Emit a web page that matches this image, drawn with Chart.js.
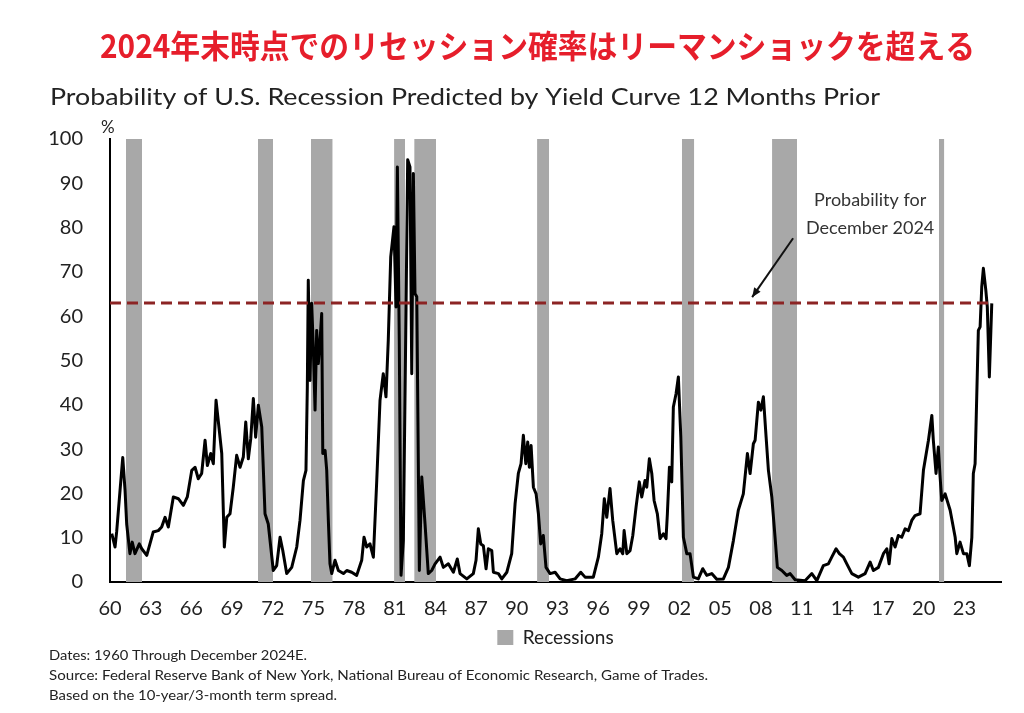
<!DOCTYPE html>
<html>
<head>
<meta charset="utf-8">
<script src="https://cdn.jsdelivr.net/npm/chart.js@4.4.1/dist/chart.umd.min.js"></script>
<style>
  html, body { margin: 0; padding: 0; background: #fff; }
</style>
</head>
<body>
<canvas id="recessionChart" width="1024" height="713"></canvas>
<script>
// Data block (years as decimals)
const years = [
  1960.13, 1960.37, 1960.49, 1960.74, 1960.94, 1961.11, 1961.23, 1961.47, 1961.64, 1961.84,
  1962.16, 1962.34, 1962.71, 1963.19, 1963.56, 1963.81, 1964.06, 1964.30, 1964.67, 1965.04,
  1965.41, 1965.70, 1966.03, 1966.27, 1966.51, 1966.76, 1967.01, 1967.18, 1967.43, 1967.62,
  1967.82, 1968.06, 1968.24, 1968.43, 1968.61, 1968.85, 1969.09, 1969.34, 1969.59, 1969.83,
  1970.01, 1970.20, 1970.38, 1970.57, 1970.74, 1970.94, 1971.19, 1971.43, 1971.67, 1972.04,
  1972.29, 1972.54, 1972.74, 1973.03, 1973.40, 1973.77, 1974.01, 1974.26, 1974.45, 1974.55,
  1974.62, 1974.75, 1974.87, 1974.99, 1975.12, 1975.24, 1975.36, 1975.49, 1975.61, 1975.69,
  1975.86, 1975.98, 1976.10, 1976.22, 1976.35, 1976.59, 1976.84, 1977.21, 1977.46, 1977.82,
  1978.19, 1978.56, 1978.73, 1978.93, 1979.17, 1979.42, 1979.67, 1979.91, 1980.15, 1980.35,
  1980.52, 1980.70, 1980.94, 1981.09, 1981.19, 1981.33, 1981.46, 1981.63, 1981.83, 1981.95,
  1982.12, 1982.25, 1982.37, 1982.49, 1982.62, 1982.81, 1982.99, 1983.23, 1983.47, 1983.72,
  1983.97, 1984.34, 1984.58, 1984.95, 1985.32, 1985.61, 1985.81, 1986.31, 1986.79, 1986.99,
  1987.16, 1987.34, 1987.53, 1987.73, 1987.90, 1988.15, 1988.27, 1988.64, 1988.89, 1989.26,
  1989.62, 1989.87, 1990.11, 1990.31, 1990.48, 1990.66, 1990.80, 1990.92, 1991.05, 1991.22,
  1991.42, 1991.59, 1991.76, 1991.95, 1992.15, 1992.45, 1992.82, 1993.19, 1993.68, 1994.29,
  1994.71, 1995.03, 1995.64, 1996.01, 1996.26, 1996.45, 1996.63, 1996.87, 1997.07, 1997.37,
  1997.61, 1997.81, 1997.91, 1998.11, 1998.35, 1998.55, 1998.79, 1999.03, 1999.21, 1999.45,
  1999.58, 1999.77, 1999.95, 2000.12, 2000.36, 2000.56, 2000.80, 2001.00, 2001.10, 2001.25,
  2001.42, 2001.54, 2001.74, 2001.91, 2002.09, 2002.28, 2002.53, 2002.77, 2003.02, 2003.38,
  2003.71, 2004.00, 2004.37, 2004.74, 2005.23, 2005.60, 2005.97, 2006.33, 2006.70, 2007.00,
  2007.20, 2007.44, 2007.57, 2007.81, 2007.99, 2008.18, 2008.38, 2008.55, 2008.80, 2009.04,
  2009.21, 2009.54, 2009.90, 2010.15, 2010.52, 2011.25, 2011.75, 2012.12, 2012.60, 2012.97,
  2013.22, 2013.54, 2013.78, 2014.08, 2014.33, 2014.70, 2015.18, 2015.68, 2016.05, 2016.29,
  2016.66, 2017.03, 2017.28, 2017.45, 2017.65, 2017.89, 2018.13, 2018.38, 2018.63, 2018.87,
  2019.12, 2019.36, 2019.73, 2019.98, 2020.35, 2020.60, 2020.71, 2020.91, 2021.08, 2021.21,
  2021.33, 2021.58, 2021.95, 2022.32, 2022.44, 2022.68, 2022.93, 2023.18, 2023.37, 2023.55,
  2023.66, 2023.79, 2024.03, 2024.16, 2024.28, 2024.40, 2024.58, 2024.69, 2024.84, 2025.02
];
const probability = [
  10.9, 7.9, 11.3, 20.7, 28.1, 20.7, 13.1, 6.4, 9.0, 6.4,
  8.6, 7.5, 6.0, 11.3, 11.6, 12.4, 14.6, 12.4, 19.2, 18.8,
  17.3, 19.2, 25.2, 25.9, 23.3, 24.5, 32.0, 26.3, 29.0, 26.7,
  41.0, 34.2, 29.0, 7.9, 14.6, 15.4, 21.4, 28.6, 25.9, 28.2,
  36.1, 27.8, 32.4, 41.4, 32.7, 39.9, 35.0, 15.4, 13.1, 2.6,
  3.7, 10.1, 7.1, 1.9, 3.3, 7.9, 13.9, 22.9, 25.2, 44.0,
  68.1, 45.5, 62.9, 53.1, 38.8, 56.8, 49.3, 54.6, 60.6, 29.0,
  29.7, 25.2, 13.9, 4.1, 1.9, 4.9, 2.6, 1.9, 2.6, 2.2,
  1.5, 4.9, 10.1, 7.9, 8.6, 5.6, 22.9, 41.0, 47.0, 41.8,
  54.6, 73.4, 80.2, 62.1, 93.7, 54.6, 1.5, 9.4, 62.1, 95.3,
  93.7, 47.0, 92.2, 65.1, 64.4, 2.6, 23.7, 13.1, 1.9, 2.6,
  4.1, 5.6, 3.3, 4.1, 2.2, 5.2, 1.9, 0.7, 1.9, 4.9,
  12.0, 8.6, 8.2, 3.0, 7.5, 7.1, 2.2, 1.9, 0.7, 2.2,
  6.4, 17.7, 24.5, 26.7, 33.1, 26.7, 31.6, 25.9, 30.8, 21.4,
  19.9, 15.4, 8.6, 10.5, 3.3, 1.9, 2.2, 0.7, 0.3, 0.7,
  2.2, 1.1, 1.1, 5.6, 10.9, 18.8, 14.6, 21.1, 13.9, 6.4,
  7.5, 6.4, 11.6, 6.4, 7.1, 10.5, 16.9, 22.6, 19.2, 22.9,
  21.4, 27.8, 24.5, 18.4, 15.4, 9.8, 10.9, 9.8, 15.4, 25.9,
  22.6, 39.5, 42.5, 46.3, 32.7, 10.1, 6.4, 6.4, 1.1, 0.7,
  3.0, 1.5, 1.9, 0.6, 0.7, 3.3, 9.4, 16.2, 19.9, 29.0,
  24.5, 31.2, 32.0, 40.6, 38.8, 41.8, 32.7, 25.2, 19.2, 10.1,
  3.3, 2.6, 1.5, 1.9, 0.5, 0.3, 1.9, 0.3, 3.7, 4.1,
  5.6, 7.5, 6.4, 5.6, 4.1, 1.9, 1.1, 1.9, 4.5, 2.6,
  3.3, 6.4, 7.5, 4.1, 9.8, 7.9, 10.5, 10.1, 12.0, 11.6,
  13.9, 15.0, 15.4, 25.2, 32.0, 37.6, 32.0, 24.5, 30.5, 23.7,
  18.4, 19.9, 16.2, 10.1, 6.4, 9.0, 6.4, 6.4, 3.7, 10.1,
  24.5, 26.7, 56.8, 57.6, 66.6, 70.8, 65.9, 62.1, 46.3, 62.9
];
const recessionStart = [1961.18, 1970.91, 1974.82, 1980.95, 1982.43, 1991.49, 2002.17, 2008.82, 2021.12];
const recessionEnd   = [1962.36, 1972.02, 1976.42, 1981.76, 1984.04, 1992.38, 2003.08, 2010.66, 2021.52];
const tickYears = [1960, 1963, 1966, 1969, 1972, 1975, 1978, 1981, 1984, 1987, 1990,
                   1993, 1996, 1999, 2002, 2005, 2008, 2011, 2014, 2017, 2020, 2023];
const dec2024Level = 63;
const lineStart = 1960;
const lineEnd = 2025.02;

const FONT = 'Lato, "Noto Sans", sans-serif';

// datasets
const lineSet = {
  label: 'Probability',
  data: years.map((yr, i) => ({ x: yr, y: probability[i] })),
  borderColor: '#000',
  borderWidth: 3,
  borderJoinStyle: 'round',
  pointRadius: 0,
  tension: 0,
  fill: false,
};
const dashSet = {
  label: 'Dec 2024',
  data: [{ x: lineStart, y: dec2024Level }, { x: lineEnd, y: dec2024Level }],
  borderColor: '#8c2424',
  borderWidth: 3,
  borderDash: [11, 6],
  pointRadius: 0,
  fill: false,
};
const recessionSets = recessionStart.map((s, i) => ({
  label: i === 0 ? 'Recessions' : '',
  data: [{ x: s, y: 100 }, { x: recessionEnd[i], y: 100 }],
  backgroundColor: '#a8a8a8',
  borderColor: '#a8a8a8',
  borderWidth: 0,
  pointRadius: 0,
  fill: 'origin',
}));

// text helper, stretches text to a given width
function fitText(ctx, text, x, y, width) {
  const w = ctx.measureText(text).width;
  ctx.save();
  ctx.translate(x, y);
  ctx.scale(width / w, 1);
  ctx.fillText(text, 0, 0);
  ctx.restore();
}

const textPlugin = {
  id: 'texts',
  afterDraw(chart) {
    const ctx = chart.ctx;
    const xs = chart.scales.x, ys = chart.scales.y;
    ctx.save();
    ctx.textAlign = 'left';
    ctx.textBaseline = 'alphabetic';

    ctx.fillStyle = '#e61e2b';
    ctx.font = 'bold 32px "Noto Sans CJK JP", sans-serif';
    fitText(ctx, '2024年末時点でのリセッション確率はリーマンショックを超える', 100, 58, 875);

    ctx.fillStyle = '#222';
    ctx.font = '24px ' + FONT;
    fitText(ctx, 'Probability of U.S. Recession Predicted by Yield Curve 12 Months Prior', 50, 105, 830);

    ctx.font = '17px ' + FONT;
    ctx.fillText('%', 101, 133);

    // annotation
    ctx.fillStyle = '#333';
    ctx.font = '18px ' + FONT;
    ctx.textAlign = 'center';
    ctx.fillText('Probability for', xs.getPixelForValue(2016.05), ys.getPixelForValue(84.9), 129);
    ctx.fillText('December 2024', xs.getPixelForValue(2016.05), ys.getPixelForValue(78.6), 146);

    const x0 = xs.getPixelForValue(2010.37), y0 = ys.getPixelForValue(77.6);
    const x1 = xs.getPixelForValue(2007.35), y1 = ys.getPixelForValue(64.3);
    ctx.strokeStyle = '#111';
    ctx.lineWidth = 2;
    ctx.beginPath();
    ctx.moveTo(x0, y0);
    ctx.lineTo(x1, y1);
    ctx.stroke();
    const ang = Math.atan2(y1 - y0, x1 - x0);
    ctx.fillStyle = '#111';
    ctx.beginPath();
    ctx.moveTo(x1, y1);
    ctx.lineTo(x1 - 10 * Math.cos(ang - 0.4), y1 - 10 * Math.sin(ang - 0.4));
    ctx.lineTo(x1 - 10 * Math.cos(ang + 0.4), y1 - 10 * Math.sin(ang + 0.4));
    ctx.closePath();
    ctx.fill();

    // footer
    ctx.textAlign = 'left';
    ctx.fillStyle = '#222';
    ctx.font = '14px ' + FONT;
    fitText(ctx, 'Dates: 1960 Through December 2024E.', 49, 660, 258);
    fitText(ctx, 'Source: Federal Reserve Bank of New York, National Bureau of Economic Research, Game of Trades.', 49, 680, 659);
    fitText(ctx, 'Based on the 10-year/3-month term spread.', 49, 700, 288);
    ctx.restore();
  }
};

const config = {
  type: 'line',
  data: { datasets: [dashSet, lineSet, ...recessionSets] },
  options: {
    responsive: false,
    animation: false,
    devicePixelRatio: 1,
    layout: { padding: { top: 139, left: 48, right: 23, bottom: 56 } },
    plugins: {
      legend: {
        position: 'bottom',
        fullSize: false,
        labels: {
          filter: item => item.text === 'Recessions',
          boxWidth: 16,
          boxHeight: 15,
          padding: 6,
          color: '#222',
          font: { family: FONT, size: 19 },
        },
      },
      tooltip: { enabled: false },
    },
    scales: {
      x: {
        type: 'linear',
        min: 1960,
        max: 2025.7,
        grid: { display: false, drawTicks: false },
        border: { color: '#000', width: 2 },
        afterBuildTicks: s => { s.ticks = tickYears.map(v => ({ value: v })); },
        afterFit: s => { s.height = 40; },
        ticks: {
          padding: 15,
          autoSkip: false,
          maxRotation: 0,
          color: '#222',
          font: { family: FONT, size: 20 },
          callback: v => String(v).slice(2),
        },
      },
      y: {
        min: 0,
        max: 100,
        grid: { display: false, drawTicks: false },
        border: { color: '#000', width: 2 },
        afterFit: s => { s.width = 62; },
        ticks: {
          stepSize: 10,
          padding: 27,
          color: '#222',
          font: { family: FONT, size: 20 },
        },
      },
    },
  },
  plugins: [textPlugin],
};

// render
const recessionChart = new Chart(document.getElementById('recessionChart'), config);
</script>
</body>
</html>
